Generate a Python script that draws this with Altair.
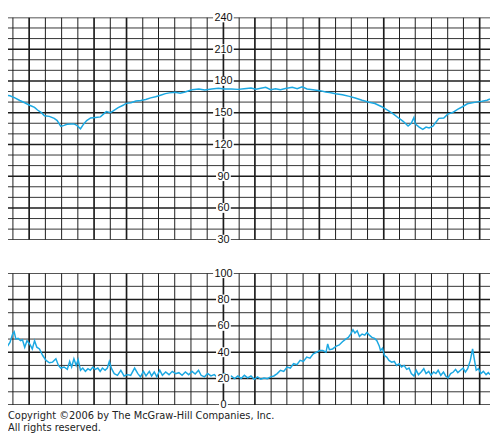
import altair as alt
import pandas as pd

# ---- Fetal heart rate trace (time position, beats per minute) ----
fhr_t = [0, 3, 10, 15, 20, 25, 30, 35, 38, 42, 45, 50, 55, 58, 61.7, 65, 68, 72, 75, 78, 81.7,
         85, 88, 92, 97, 102, 105, 108, 112, 115, 120, 125, 128, 133, 138, 143, 148, 153, 158,
         163, 168, 172, 178, 183, 188, 195, 202, 208, 215, 222, 228, 235, 242, 248, 255, 260,
         265, 270, 275, 280, 285, 290, 297, 302, 307, 312, 318, 325, 331, 335, 341, 348, 355,
         361, 368, 375, 381, 388, 395, 400, 405, 410, 414.7, 418, 420.7, 422, 426, 429.7, 433,
         436, 440, 443, 446, 451, 455, 460, 465, 470, 475, 480, 485, 490, 495, 498]
fhr_bpm = [167, 166.5, 166, 164, 161.5, 159.4, 157, 155, 152.5, 150, 147, 146.5, 144.6, 142.5,
           137, 138, 139, 139.4, 139.4, 138, 134.8, 139.4, 142.5, 145, 145.5, 146, 148.6, 151,
           150, 151.7, 154.8, 157, 158.8, 159.4, 161, 161.5, 162.5, 164, 165, 166.5, 168, 168.7,
           169.3, 168.4, 169.6, 171.7, 172.4, 171.4, 172.4, 173, 172.4, 172.4, 172, 172.6, 173.3,
           172.2, 173, 173.9, 171.7, 172.5, 171.7, 172.8, 173.9, 172.6, 174.5, 172.4, 171.7,
           170.8, 169.6, 169, 167.8, 166.9, 165.4, 163.8, 161.7, 159.9, 158.7, 155.6, 151.6,
           148.6, 145, 141.6, 137.3, 140, 145.5, 139.5, 136.4, 134.3, 136.4, 135.5, 137.3, 141,
           144.6, 145, 148.6, 150.1, 153.2, 155.6, 158.4, 159.3, 160.2, 160.8, 161.7, 162.9]

# ---- Uterine activity trace (time position, mmHg) ----
uc_t = [0, 1.7, 6.7, 10, 12.7, 14.3, 16, 18.3, 20.7, 22.7, 25, 27.3, 30, 32.7, 35, 37.3, 40,
        43.3, 46.7, 50, 53.3, 56.7, 59.3, 61.7, 65, 68.3, 70.7, 72.7, 75, 77.3, 79.3, 81.7, 84,
        86.7, 89.3, 91.7, 94.3, 96.7, 99.3, 101.7, 104, 106.7, 109, 111, 113.3, 116, 119.3,
        122.7, 126, 129.3, 132.7, 136.7, 140, 142.7, 145.7, 148.3, 151.7, 154, 156.7, 159.3,
        162.3, 165, 168.3, 171.7, 175, 178.3, 181.7, 185, 188.3, 191.7, 195, 198.3, 201.7,
        204.3, 207.7, 211, 214.3, 217.7, 221.7, 225, 228.3, 231.7, 235, 238.3, 241.7, 245,
        248.3, 251.7, 255, 258.3, 261.7, 265, 268.3, 271.7, 275, 278.3, 281.7, 285, 288.3,
        291.7, 295, 298.3, 301.7, 305, 308.3, 311.7, 315, 318.3, 321.7, 325, 328, 331.3, 333,
        334.7, 338, 341.3, 344.7, 348, 351.3, 354, 356.3, 358.7, 360.7, 363, 365.3, 368, 370.7,
        373, 375.3, 378, 380.7, 383, 385.3, 386.7, 388.7, 390.7, 393, 395.3, 398, 400.7, 403,
        405.7, 408, 410.7, 413.3, 415.7, 418, 420.7, 423, 425.3, 428, 430.7, 433, 435.7, 438,
        440.7, 443, 445.3, 448, 450.7, 453, 455.3, 458, 460.7, 463, 465.3, 468, 470.7, 473,
        475.3, 478, 480.3, 482, 484, 486.3, 488.7, 491.3, 494, 496.3, 498]
uc_mmhg = [44, 44.3, 43.8, 47.5, 53.8, 55.5, 50, 50.5, 48.8, 49.5, 43.8, 48.8, 46.3, 42.5, 48.8,
           43.8, 42.5, 37.5, 33.8, 32, 32.5, 35, 30, 28, 28.8, 27, 33, 28.8, 35, 30, 34.5, 26.3,
           28, 25.5, 27.5, 26.3, 28.8, 27, 28, 25.5, 28, 26.3, 28, 33, 27.5, 23.8, 22.5, 26.3,
           22, 23, 22.5, 28, 23.8, 21.3, 25.5, 22, 25.5, 22, 25, 21.3, 26.3, 22.5, 25, 23, 25.5,
           23.8, 24.5, 22.5, 25, 23, 25.5, 23.5, 26.3, 22.5, 21.3, 23.8, 22, 23, 20.5, 22.5,
           23.8, 21.3, 22, 20, 22, 20, 22.5, 20.5, 22, 19.5, 21.3, 19.5, 20.5, 20, 21.3, 22,
           23.8, 26.3, 25.5, 28.8, 28, 31.3, 30.5, 33.8, 33, 36.3, 35.5, 38.8, 40, 41.3, 41.3,
           40, 46.3, 42, 42.5, 44.5, 45.5, 48, 50, 51.3, 53.8, 57, 54.5, 56.3, 52, 53.8, 53, 55,
           53, 51.3, 50.5, 48.8, 45, 41.3, 43, 37.5, 36.3, 33.8, 32.5, 33, 30, 31.3, 28.8, 30,
           27, 28, 23.8, 22, 26.3, 23, 25, 27.5, 23.8, 25.5, 22.5, 25, 23.8, 26.3, 22.5, 25, 22,
           20.5, 23.8, 25, 27, 24.5, 26.3, 28, 25, 27.5, 33.8, 42.5, 35, 26.3, 27.5, 23.8, 25.5,
           23, 24.5, 23]

# ---- Chart paper ----
fhr_labels = [240, 210, 180, 150, 120, 90, 60, 30]
uc_labels = [100, 80, 60, 40, 20, 0]
fhr_lines = list(range(30, 241, 10))
uc_lines = list(range(0, 101, 10))
time_lines = [13, 29.5, 46, 62.5, 79, 95.5, 112, 128.5, 145, 161, 177.5, 194, 210.5, 227, 243,
              259, 275.5, 291.5, 308, 324.5, 341, 357, 373.5, 390, 406, 422, 438.5, 455, 471, 487.5]
time_lines_bold = [29.5, 95.5, 128.5, 227, 259, 324.5, 390, 487.5]
axis_time = 227
copyright_lines = ["Copyright \u00a92006 by The McGraw-Hill Companies, Inc.", "All rights reserved."]

TRACE = "#1ba8e2"
GRID = "#1c1c1c"
W = 490

xs = alt.Scale(domain=[8, 498], nice=False, zero=False)

# white label boxes (10 px tall), width set by number of digits
BOX = {3: "M-2.1,-1H2.1V1H-2.1Z", 2: "M-1.5,-1H1.5V1H-1.5Z", 1: "M-0.9,-1H0.9V1H-0.9Z"}


def panel(lines, bold_every, labels, t, vals, domain, height):
    ys = alt.Scale(domain=domain, nice=False, zero=False)
    hl = pd.DataFrame({"v": lines, "w": [1.5 if v % bold_every == 0 else 0.9 for v in lines]})
    hrules = alt.Chart(hl).mark_rule(color=GRID, clip=True).encode(
        y=alt.Y("v:Q", scale=ys, axis=None),
        strokeWidth=alt.StrokeWidth("w:Q", scale=None, legend=None))
    vl = pd.DataFrame({"t": time_lines,
                       "w": [1.7 if x in time_lines_bold else 1.0 for x in time_lines]})
    vrules = alt.Chart(vl).mark_rule(color=GRID, clip=True).encode(
        x=alt.X("t:Q", scale=xs, axis=None),
        strokeWidth=alt.StrokeWidth("w:Q", scale=None, legend=None))
    tr = pd.DataFrame({"t": t, "v": vals})
    trace = alt.Chart(tr).mark_line(color=TRACE, strokeWidth=1.5, clip=True).encode(
        x=alt.X("t:Q", scale=xs, axis=None),
        y=alt.Y("v:Q", scale=ys, axis=None))
    lab = pd.DataFrame({
        "v": labels,
        "t": [axis_time] * len(labels),
        "txt": [str(v) for v in labels],
        "shape": [BOX[len(str(v))] for v in labels],
    })
    boxes = alt.Chart(lab).mark_point(filled=True, fill="white", opacity=1,
                                      strokeWidth=0, size=100).encode(
        x=alt.X("t:Q", scale=xs, axis=None),
        y=alt.Y("v:Q", scale=ys, axis=None),
        shape=alt.Shape("shape:N", scale=None, legend=None))
    texts = alt.Chart(lab).mark_text(font="Liberation Sans", fontSize=11, color="#111",
                                     align="center", baseline="middle", dy=0.5).encode(
        x=alt.X("t:Q", scale=xs, axis=None),
        y=alt.Y("v:Q", scale=ys, axis=None),
        text="txt:N")
    return alt.layer(hrules, vrules, trace, boxes, texts).properties(width=W, height=height)


top = panel(fhr_lines, 30, fhr_labels, fhr_t, fhr_bpm, [30, 240], 226)
bottom = panel(uc_lines, 20, uc_labels, uc_t, uc_mmhg, [0, 100], 134)

note = alt.Chart(pd.DataFrame({"txt": ["\n".join(copyright_lines)]})).mark_text(
    font="DejaVu Sans", fontSize=10, color="#222", align="left", baseline="alphabetic",
    lineBreak="\n", lineHeight=12).encode(
    x=alt.value(0), y=alt.value(148), text="txt:N")

bottom = alt.layer(bottom, note).properties(width=W, height=134)

chart = alt.vconcat(top, bottom, spacing=34, bounds="flush").configure_view(
    stroke=None).properties(padding=0)

chart.save("out.html", embed_options={"renderer": "svg", "actions": False})
